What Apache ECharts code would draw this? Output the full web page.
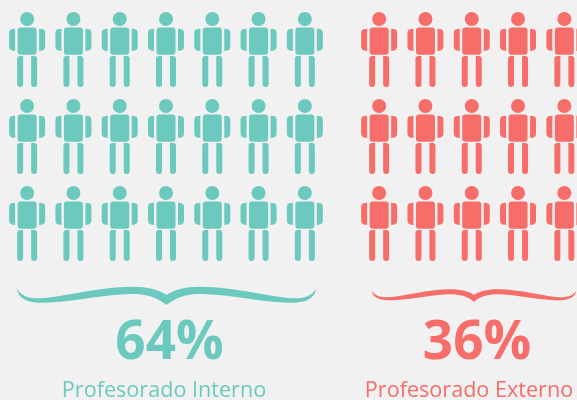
<!DOCTYPE html>
<html><head><meta charset="utf-8">
<style>html,body{margin:0;padding:0;background:#f1f1f1}#c{width:577px;height:400px}</style>
<script src="https://cdn.jsdelivr.net/npm/echarts@6/dist/echarts.min.js"></script>
</head><body><div id="c"></div>
<script>
const rows = ['r1','r2','r3'];
const internoColumns = ['c1','c2','c3','c4','c5','c6','c7'];
const externoColumns = [1,2,3,4,5];
const groupLabels = ['Profesorado Interno','Profesorado Externo'];
const groupPercents = ['64%','36%'];
const teal = '#6cc9be', red = '#f66d69';

const person = 'path://' +
 'M11 7a7 7 0 1 0 14 0a7 7 0 1 0 -14 0Z' +
 'M11.5 15.5H24.5Q27.5 15.5 27.5 18.5V39.5Q27.5 42.7 24.5 42.7H11.5Q8.5 42.7 8.5 39.5V18.5Q8.5 15.5 11.5 15.5Z' +
 'M6 16.7V39Q2 38.8 1 37.5Q0 36.5 0 34V21Q0 18 1.5 17.5Q3.5 16.7 6 16.7Z' +
 'M30 16.7V39Q34 38.8 35 37.5Q36 36.5 36 34V21Q36 18 34.5 17.5Q32.5 16.7 30 16.7Z' +
 'M11 44H14V72Q14 75 11 75Q8 75 8 72V47Q8 44 11 44Z' +
 'M25 44H22V72Q22 75 25 75Q28 75 28 72V47Q28 44 25 44Z';

const brace = 'M17.3 289C18.5 297 25 302.7 42 302.7C62 302.7 85 298.5 105 296C118 294.5 128 294 136 294C148 294.5 158 298 166.7 305' +
 'C175.4 298 185.4 294.5 197.4 294C205.4 294 215.4 294.5 228.4 296C248.4 298.5 271.4 302.7 291.4 302.7C308.4 302.7 314.9 297 316.1 289' +
 'C312.4 295 305.4 298.3 296.4 298.3C283.4 298.3 268.4 295 250.4 292C235.4 289.5 218.4 286.7 200.4 286.7C185.4 286.7 173.4 290 166.7 295' +
 'C160 290 148 286.7 133 286.7C115 286.7 98 289.5 83 292C65 295 50 298.3 37 298.3C28 298.3 21 295 17.3 289Z';

function cells(cols){
  const out = [];
  rows.forEach(r => cols.forEach(c => out.push([c, r])));
  return out;
}
function hiddenCat(data, gridIndex){
  return {type:'category', data, gridIndex, show:false, boundaryGap:true};
}
function braceSeries(x, y, width, height, color){
  return {type:'custom', coordinateSystem:'none', silent:true, data:[[0]],
    renderItem:function(){
      return {type:'path', shape:{pathData:brace, x, y, width, height, layout:'cover'}, style:{fill:color}};
    }};
}
const option = {
  backgroundColor:'#f1f1f1',
  animation:false,
  grid:[
    {left:4, top:6, width:324, height:261},
    {left:356, top:6, width:221, height:261}
  ],
  xAxis:[hiddenCat(internoColumns,0), {type:'value', gridIndex:1, show:false, min:0.5, max:5.273}],
  yAxis:[
    Object.assign(hiddenCat(rows,0),{inverse:true}),
    Object.assign(hiddenCat(rows,1),{inverse:true})
  ],
  series:[
    {type:'scatter', name:groupLabels[0], xAxisIndex:0, yAxisIndex:0, symbol:person, symbolSize:[36,75], symbolKeepAspect:false, itemStyle:{color:teal,opacity:1}, data:cells(internoColumns), silent:true},
    {type:'scatter', name:groupLabels[1], xAxisIndex:1, yAxisIndex:1, symbol:person, symbolSize:[36,75], symbolKeepAspect:false, itemStyle:{color:red,opacity:1}, data:cells(externoColumns), silent:true},
    braceSeries(17, 286.7, 299, 18.3, teal),
    braceSeries(371.7, 289.3, 204.5, 12.5, red)
  ],
  graphic:[
    {type:'text', x:169.5, y:344, style:{text:groupPercents[0], fill:teal, font:'bold 53px "Open Sans"', textAlign:'center', textVerticalAlign:'middle'}},
    {type:'text', x:477, y:344, style:{text:groupPercents[1], fill:red, font:'bold 53px "Open Sans"', textAlign:'center', textVerticalAlign:'middle'}},
    {type:'text', x:164, y:391, style:{text:groupLabels[0], fill:teal, font:'21.6px "Open Sans"', textAlign:'center', textVerticalAlign:'middle'}},
    {type:'text', x:469, y:391, style:{text:groupLabels[1], fill:red, font:'21.6px "Open Sans"', textAlign:'center', textVerticalAlign:'middle'}}
  ]
};
echarts.init(document.getElementById('c'),null,{renderer:'canvas'}).setOption(option);
</script></body></html>
